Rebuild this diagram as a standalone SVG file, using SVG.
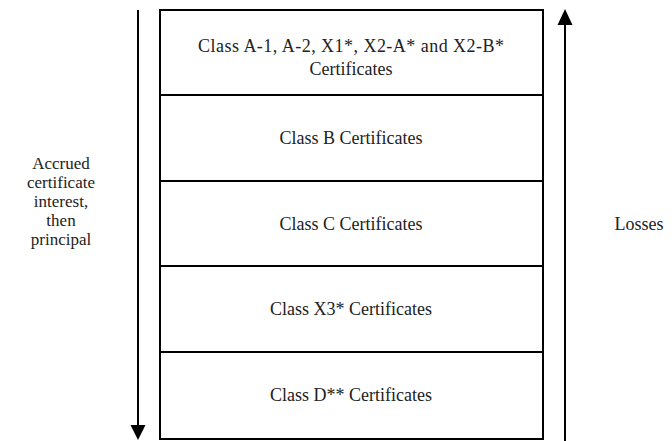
<svg xmlns="http://www.w3.org/2000/svg" width="672" height="441" viewBox="0 0 672 441">
<style>
.box{fill:#fff;stroke:#000;stroke-width:2}
.t{font-family:"Liberation Serif","Times New Roman",serif;font-size:18px;fill:#222;text-anchor:middle}
.s{font-size:17px}
.ln{stroke:#000;stroke-width:2;fill:none}
</style>
<rect width="672" height="441" fill="#fff"/>
<g id="n1"><rect class="box" x="160" y="10" width="383" height="85"/>
<text class="t" x="351" y="52" textLength="306" lengthAdjust="spacing">Class A-1, A-2, X1*, X2-A* and X2-B*</text>
<text class="t" x="351" y="75">Certificates</text></g>
<g id="n2"><rect class="box" x="160" y="95" width="383" height="86"/>
<text class="t" x="351" y="144">Class B Certificates</text></g>
<g id="n3"><rect class="box" x="160" y="181" width="383" height="85"/>
<text class="t" x="351" y="230">Class C Certificates</text></g>
<g id="n4"><rect class="box" x="160" y="266" width="383" height="86"/>
<text class="t" x="351" y="315">Class X3* Certificates</text></g>
<g id="n5"><rect class="box" x="160" y="352" width="383" height="87"/>
<text class="t" x="351" y="401">Class D** Certificates</text></g>
<g id="lbl1"><text class="t s" x="61" y="169">Accrued</text>
<text class="t s" x="61" y="188">certificate</text>
<text class="t s" x="61" y="207">interest,</text>
<text class="t s" x="61" y="226">then</text>
<text class="t s" x="61" y="245">principal</text></g>
<g id="lbl2"><text class="t" x="639" y="230">Losses</text></g>
<g id="connectors">
<path class="ln" d="M138,10 V426"/>
<path d="M130.5,425 L145.5,425 L138,440 z" fill="#000"/>
<path class="ln" d="M565,441 V24"/>
<path d="M557.5,25 L572.5,25 L565,9 z" fill="#000"/>
</g>
</svg>
